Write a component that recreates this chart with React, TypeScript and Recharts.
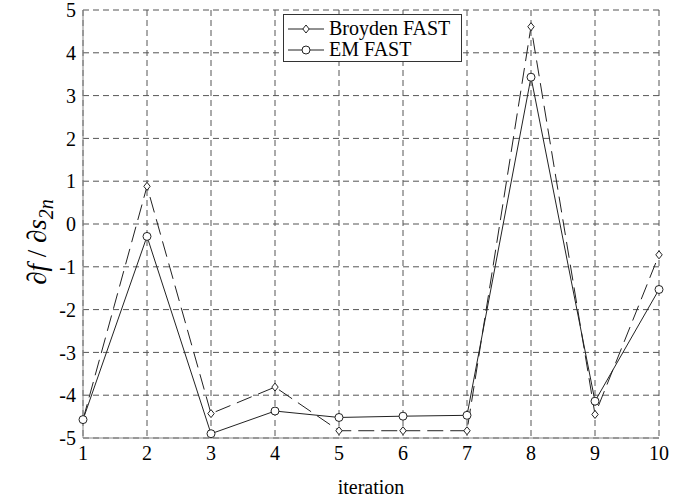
import React from "react";
import { LineChart, Line, XAxis, YAxis, CartesianGrid } from "recharts";

const iterations = [1, 2, 3, 4, 5, 6, 7, 8, 9, 10];
const broydenFast = [-4.57, 0.88, -4.43, -3.81, -4.83, -4.83, -4.83, 4.61, -4.45, -0.72];
const emFast = [-4.57, -0.29, -4.9, -4.37, -4.52, -4.49, -4.47, 3.43, -4.14, -1.53];
const xTicks = [1, 2, 3, 4, 5, 6, 7, 8, 9, 10];
const yTicks = [-5, -4, -3, -2, -1, 0, 1, 2, 3, 4, 5];

const data = iterations.map((it, i) => ({
  it,
  broyden: broydenFast[i],
  em: emFast[i],
}));

const FONT = "Liberation Serif, DejaVu Serif, serif";

function Diamond(props: any) {
  const { cx, cy } = props;
  if (cx == null || cy == null) return null;
  const r = 4;
  return (
    <path
      d={`M${cx},${cy - r}L${cx + r * 0.8},${cy}L${cx},${cy + r}L${cx - r * 0.8},${cy}Z`}
      fill="#fff"
      stroke="#222"
      strokeWidth={1}
    />
  );
}

function Ring(props: any) {
  const { cx, cy } = props;
  if (cx == null || cy == null) return null;
  return <circle cx={cx} cy={cy} r={4} fill="#fff" stroke="#222" strokeWidth={1} />;
}

function YLabel(props: any) {
  const { viewBox } = props;
  const cy = viewBox.y + viewBox.height / 2 + 18;
  return (
    <text
      transform={`translate(46, ${cy}) rotate(-90)`}
      textAnchor="middle"
      fontFamily={FONT}
      fontSize={27}
      fill="#000"
    >
      <tspan>∂</tspan>
      <tspan fontStyle="italic">f</tspan>
      <tspan> / ∂</tspan>
      <tspan fontStyle="italic">s</tspan>
      <tspan fontStyle="italic" fontSize={20} dy={7}>
        2n
      </tspan>
    </text>
  );
}

function LegendBox() {
  const row = (label: string, marker: React.ReactNode) => (
    <div style={{ display: "flex", alignItems: "center", height: 21 }}>
      <svg width={40} height={14}>
        <line x1={2} y1={7} x2={38} y2={7} stroke="#222" strokeWidth={1} />
        {marker}
      </svg>
      <span style={{ marginLeft: 3 }}>{label}</span>
    </div>
  );
  return (
    <div
      style={{
        position: "absolute",
        left: 283,
        top: 14,
        width: 179,
        height: 48,
        border: "1px solid #333",
        background: "#fff",
        fontFamily: FONT,
        fontSize: 20,
        color: "#000",
        padding: "3px 0 0 2px",
        boxSizing: "border-box",
        lineHeight: "21px",
      }}
    >
      {row("Broyden FAST", <Diamond cx={20} cy={7} />)}
      {row("EM FAST", <Ring cx={20} cy={7} />)}
    </div>
  );
}

export default function App() {
  return (
    <div
      style={{
        position: "absolute",
        left: 0,
        top: 0,
        width: 689,
        height: 498,
        background: "#fff",
        fontFamily: FONT,
      }}
    >
      <style>{`.recharts-wrapper text { font-family: ${FONT} !important; }`}</style>
      <LineChart
        width={689}
        height={498}
        data={data}
        margin={{ top: 10, right: 30, bottom: 0, left: 0 }}
      >
        <CartesianGrid
          xAxisId="bottom"
          yAxisId="left"
          stroke="#555"
          strokeDasharray="6 4"
          strokeWidth={1}
        />
        <XAxis
          xAxisId="bottom"
          dataKey="it"
          type="number"
          domain={[1, 10]}
          ticks={xTicks}
          height={60}
          axisLine={{ stroke: "#888" }}
          tickLine={false}
          tickSize={4}
          tickMargin={4}
          tick={{ fontSize: 20, fill: "#000" }}
          label={{
            value: "iteration",
            position: "insideBottom",
            offset: 4,
            style: { fontSize: 20, fill: "#000" },
          }}
        />
        <XAxis
          xAxisId="top"
          orientation="top"
          dataKey="it"
          type="number"
          domain={[1, 10]}
          ticks={xTicks}
          height={0}
          axisLine={{ stroke: "#999" }}
          tickLine={false}
          tick={false}
        />
        <YAxis
          yAxisId="left"
          type="number"
          domain={[-5, 5]}
          ticks={yTicks}
          width={83}
          axisLine={{ stroke: "#888" }}
          tickLine={false}
          tickSize={4}
          tickMargin={3}
          interval={0}
          tick={{ fontSize: 20, fill: "#000" }}
          label={<YLabel />}
        />
        <YAxis
          yAxisId="right"
          orientation="right"
          type="number"
          domain={[-5, 5]}
          ticks={yTicks}
          width={0}
          axisLine={{ stroke: "#888" }}
          tickLine={false}
          tick={false}
        />
        <Line
          xAxisId="bottom"
          yAxisId="left"
          dataKey="broyden"
          stroke="#222"
          strokeWidth={1}
          strokeDasharray="16 7"
          dot={<Diamond />}
          activeDot={false}
          isAnimationActive={false}
        />
        <Line
          xAxisId="bottom"
          yAxisId="left"
          dataKey="em"
          stroke="#222"
          strokeWidth={1}
          dot={<Ring />}
          activeDot={false}
          isAnimationActive={false}
        />
      </LineChart>
      <LegendBox />
    </div>
  );
}
